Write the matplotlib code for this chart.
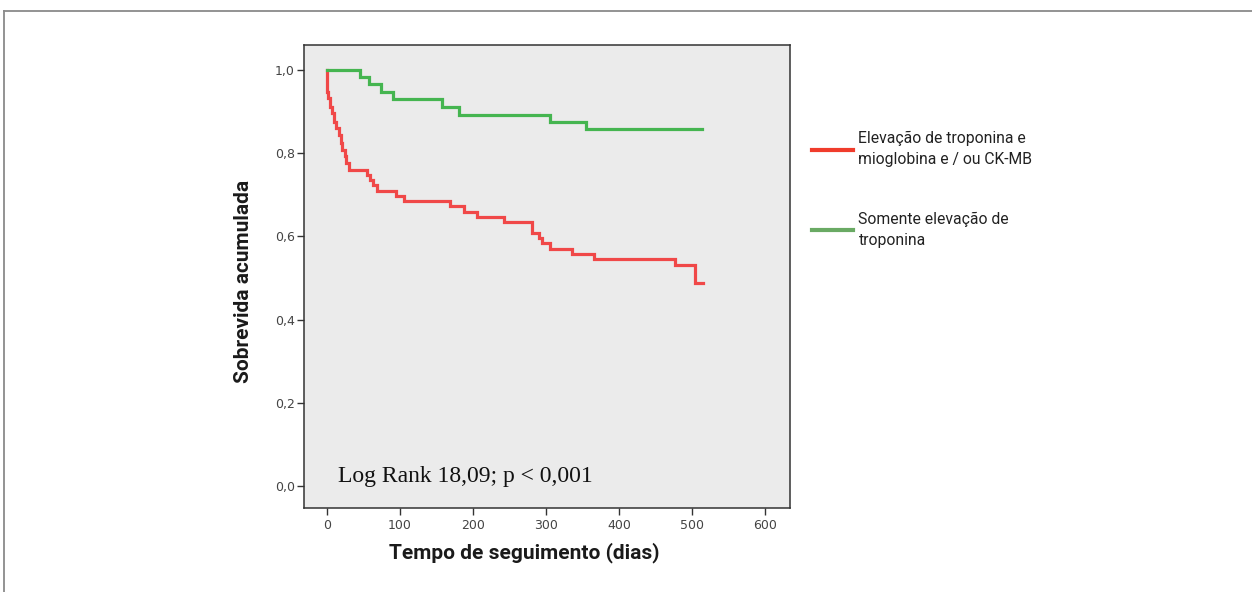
import matplotlib
matplotlib.use("Agg")
import matplotlib.pyplot as plt
from matplotlib.lines import Line2D
from matplotlib.ticker import FuncFormatter

# Kaplan-Meier steps (days, cumulative survival)
red_days = [0, 0, 2, 4, 7, 9, 12, 16, 19, 21, 24, 26, 30, 55, 59, 63, 68, 95, 105,
            168, 188, 205, 242, 281, 290, 295, 305, 335, 365, 477, 504, 515]
red_surv = [1.0, 0.948, 0.933, 0.912, 0.897, 0.876, 0.861, 0.844, 0.825, 0.808, 0.792,
            0.776, 0.760, 0.748, 0.736, 0.724, 0.710, 0.697, 0.685, 0.673, 0.659, 0.647,
            0.634, 0.609, 0.595, 0.583, 0.570, 0.558, 0.546, 0.531, 0.487, 0.487]

green_days = [0, 45, 57, 74, 90, 158, 181, 305, 354, 514]
green_surv = [1.0, 0.984, 0.966, 0.946, 0.930, 0.910, 0.892, 0.876, 0.857, 0.857]

labels = ["Elevação de troponina e\nmioglobina e / ou CK-MB",
          "Somente elevação de\ntroponina"]
x_ticks = [0, 100, 200, 300, 400, 500, 600]
y_ticks = [0.0, 0.2, 0.4, 0.6, 0.8, 1.0]

narrow = ["Liberation Sans Narrow", "Roboto", "DejaVu Sans"]

fig = plt.figure(figsize=(12.52, 5.92), dpi=100)
ax = fig.add_axes([304 / 1252, 84 / 592, 486 / 1252, 463 / 592])
ax.set_facecolor("#ebebeb")

ax.step(red_days, red_surv, where="post", color="#f04848", lw=2.3, solid_joinstyle="miter")
ax.step(green_days, green_surv, where="post", color="#45b550", lw=2.3, solid_joinstyle="miter")

ax.set_xlim(-31.5, 634)
ax.set_ylim(-0.053, 1.06)
ax.set_xticks(x_ticks)
ax.set_yticks(y_ticks)
ax.yaxis.set_major_formatter(FuncFormatter(lambda v, p: f"{v:.1f}".replace(".", ",")))
ax.tick_params(direction="out", length=5, width=1, color="#333333",
               labelsize=9, labelcolor="#444444")
ax.tick_params(axis="x", pad=3)
ax.tick_params(axis="y", pad=1.5)
for side in ["left", "bottom", "right", "top"]:
    ax.spines[side].set_color("#333333")
    ax.spines[side].set_linewidth(1.1)

ax.set_ylabel("Sobrevida acumulada", fontsize=15, fontweight="bold",
              family=narrow, color="#1a1a1a")
ax.yaxis.set_label_coords(-0.105, 0.49)
ax.set_xlabel("Tempo de seguimento (dias)", fontsize=15, fontweight="bold",
              family=narrow, color="#1a1a1a")
ax.xaxis.set_label_coords(0.453, -0.075)

ax.text(0.07, 0.067, "Log Rank 18,09; p < 0,001", transform=ax.transAxes,
        fontsize=17, family=["Liberation Serif", "DejaVu Serif"], va="center", ha="left",
        color="#111111")

handles = [Line2D([], [], color="#f03c2c", lw=3),
           Line2D([], [], color="#6aaa64", lw=3)]
leg = fig.legend(handles, labels, loc="upper left", bbox_to_anchor=(798 / 1252, 1 - 117 / 592),
                 frameon=False, handlelength=2.6, handletextpad=0.35, labelspacing=2.83,
                 prop={"family": narrow, "size": 11.3})
for t in leg.get_texts():
    t.set_color("#222222")
    t.set_linespacing(1.5)

# outer frame of the figure (top and left edges)
fig.add_artist(Line2D([4 / 1252, 1.0], [1 - 11 / 592, 1 - 11 / 592],
                      transform=fig.transFigure, color="#8a8a8a", lw=1.3))
fig.add_artist(Line2D([4 / 1252, 4 / 1252], [0.0, 1 - 11 / 592],
                      transform=fig.transFigure, color="#8a8a8a", lw=1.3))

fig.savefig("out.png", dpi=100, facecolor="white")
